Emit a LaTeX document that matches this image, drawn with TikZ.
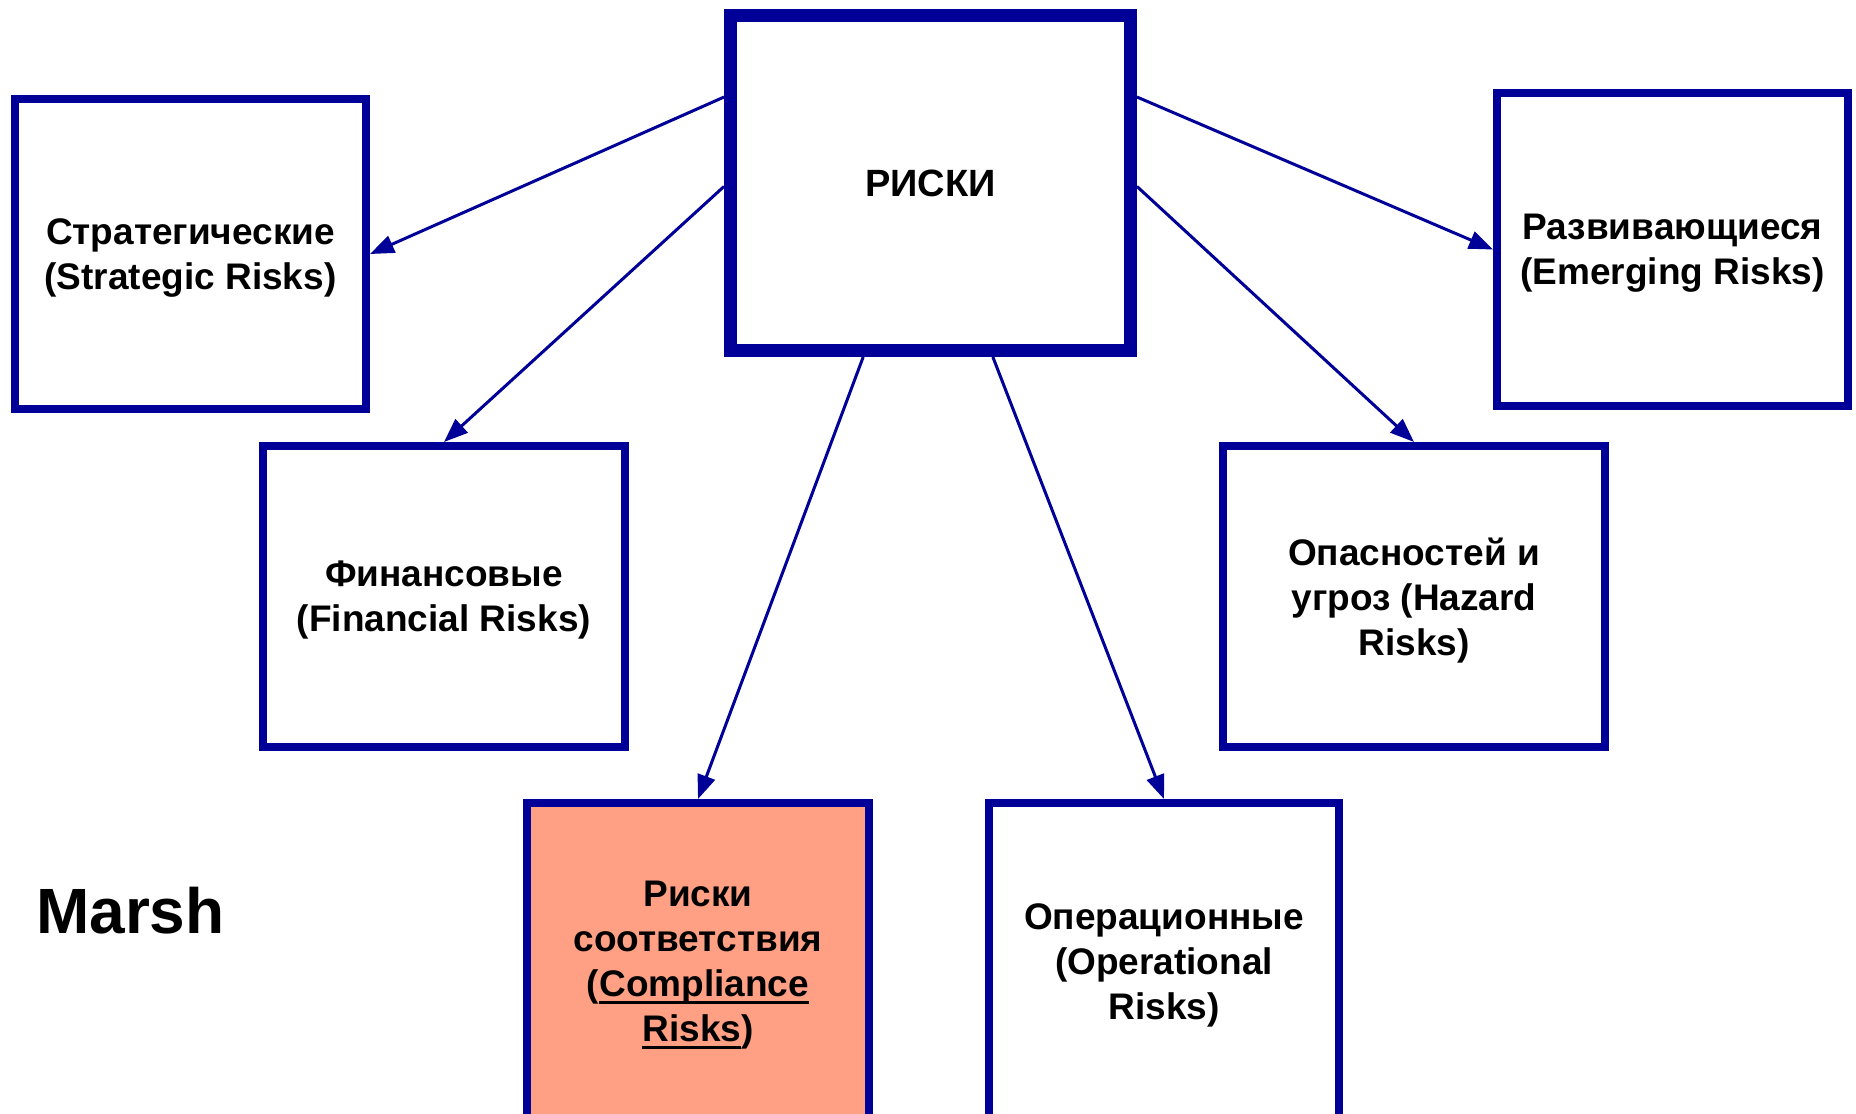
\documentclass[tikz,border=0pt]{standalone}
\usepackage{fontspec}
\setmainfont{Liberation Sans}
\usetikzlibrary{arrows.meta,calc}
\definecolor{riskblue}{RGB}{0,0,153}
\definecolor{riskfill}{RGB}{255,160,132}
\newcommand{\riskul}[1]{\setbox0\hbox{#1}\rlap{\rule[-7.5pt]{\wd0}{2.8pt}}#1}

\begin{document}
\begin{tikzpicture}[x=1pt,y=-1pt,
    riskbox/.style={draw=riskblue, line width=8pt, inner sep=0pt, align=center,
      text depth=0pt, font=\fontsize{37}{45}\selectfont\bfseries},
    riskarrow/.style={draw=riskblue, line width=3pt, -{Triangle[length=24pt,width=18pt]}}]
    \fill[white] (0,0) rectangle (1856,1114);
    \useasboundingbox (0,0) rectangle (1856,1114);
    \clip (0,0) rectangle (1856,1114);
    % central box
    \node[riskbox, line width=13pt, minimum width=400pt, minimum height=335pt,
      font=\fontsize{38}{45}\selectfont\bfseries] (main) at (930.5,183) {РИСКИ};
    % kinds of risk
    \node[riskbox, minimum width=351pt, minimum height=310pt] (strat) at (190.5,254)
      {Стратегические\\(Strategic Risks)};
    \node[riskbox, minimum width=362pt, minimum height=301pt] (fin) at (444,596.5)
      {Финансовые\\(Financial Risks)};
    \node[riskbox, minimum width=351pt, minimum height=313pt] (emerg) at (1672.5,249.5)
      {Развивающиеся\\(Emerging Risks)};
    \node[riskbox, minimum width=382pt, minimum height=301pt] (haz) at (1414,596.5)
      {Опасностей и\\угроз (Hazard\\Risks)};
    \node[riskbox, fill=riskfill, minimum width=342pt, minimum height=317pt] (comp) at (698,961.5)
      {Риски\\соответствия\\(\riskul{Compliance}\\\riskul{Risks})};
    \node[riskbox, minimum width=350pt, minimum height=317pt] (oper) at (1164,961.5)
      {Операционные\\(Operational\\Risks)};
    \node[anchor=base west, inner sep=0pt, font=\fontsize{64}{72}\selectfont\bfseries]
      (marsh) at (36,933) {Marsh};
    % arrows
    \draw[riskarrow] ($(main.north west)!0.253!(main.south west)$) -- (strat.east);
    \draw[riskarrow] ($(main.north west)!0.51!(main.south west)$) -- (fin.north);
    \draw[riskarrow] ($(main.north east)!0.253!(main.south east)$) -- (emerg.west);
    \draw[riskarrow] ($(main.north east)!0.51!(main.south east)$) -- (haz.north);
    \draw[riskarrow] ($(main.south west)!0.337!(main.south east)$) -- (comp.north);
    \draw[riskarrow] ($(main.south west)!0.651!(main.south east)$) -- (oper.north);
\end{tikzpicture}
\end{document}
